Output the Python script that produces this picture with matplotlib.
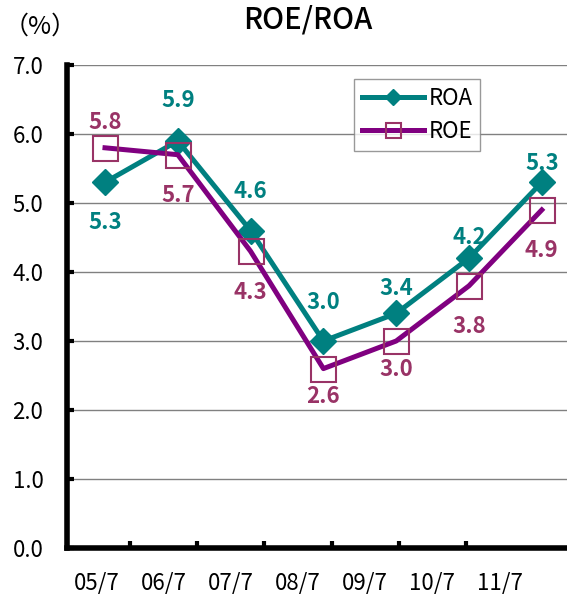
import matplotlib
matplotlib.use("Agg")
import matplotlib.pyplot as plt
import numpy as np

plt.rcParams['font.family'] = ['Noto Sans CJK JP', 'DejaVu Sans']

categories = ["05/7", "06/7", "07/7", "08/7", "09/7", "10/7", "11/7"]
roa = [5.3, 5.9, 4.6, 3.0, 3.4, 4.2, 5.3]
roe = [5.8, 5.7, 4.3, 2.6, 3.0, 3.8, 4.9]
yticks = [0.0, 1.0, 2.0, 3.0, 4.0, 5.0, 6.0, 7.0]

# label offsets in pixels (positive = above)
roa_label_off = [-40, 40, 39, 39, 25, 21, 19]
roe_label_off = [25, -41, -41, -28, -29, -41, -41]

ROA_C = "#008080"
ROE_LINE = "#800080"
ROE_MARK = "#993366"

W, H = 567, 594
fig = plt.figure(figsize=(W / 100, H / 100), dpi=100)
left, right, bottom, top = 67, 567, 548, 65
ax = fig.add_axes([left / W, 1 - bottom / H, (right - left) / W, (bottom - top) / H])

x = np.arange(len(categories))
ax.set_ylim(0, 7)
ax.set_xlim((left - 96.4) / 67.2, (right - 96.4) / 67.2)
ax.set_yticks(yticks)
ax.set_yticklabels([f"{v:.1f}" for v in yticks])
ax.set_xticks(x)
ax.set_xticklabels(categories)
ax.set_xticks(x[:-1] + 0.5, minor=True)
ax.tick_params(axis="x", which="major", length=0, pad=17, labelsize=16)
ax.tick_params(axis="x", which="minor", direction="in", length=5, width=3)
ax.tick_params(axis="y", direction="in", length=5, width=3, pad=17, labelsize=16)
ax.yaxis.grid(True, color="#808080", linewidth=1)
ax.set_axisbelow(True)
for s in ["top", "right"]:
    ax.spines[s].set_visible(False)
for s in ["left", "bottom"]:
    ax.spines[s].set_linewidth(4)
    ax.spines[s].set_color("black")

ax2 = ax.twiny()
ax2.set_xlim((left - 105) / 72.8, (right - 105) / 72.8)
ax2.set_ylim(0, 7)
ax2.set_xticks([])
for s in ax2.spines.values():
    s.set_visible(False)

ax2.plot(x, roa, color=ROA_C, linewidth=3.6, marker="D", markersize=13,
         markerfacecolor=ROA_C, markeredgecolor=ROA_C, label="ROA", zorder=3)
ax2.plot(x, roe, color=ROE_LINE, linewidth=3.6, marker="s", markersize=18,
         markerfacecolor="none", markeredgecolor=ROE_MARK, markeredgewidth=1.5,
         label="ROE", zorder=4)

for xi, v, off in zip(x, roa, roa_label_off):
    ax2.annotate(f"{v:.1f}", (xi, v), xytext=(0, off * 0.72), textcoords="offset points",
                 ha="center", va="center", color=ROA_C, fontsize=16, fontweight="bold")
for xi, v, off in zip(x, roe, roe_label_off):
    ax2.annotate(f"{v:.1f}", (xi, v), xytext=(0, off * 0.72), textcoords="offset points",
                 ha="center", va="center", color=ROE_MARK, fontsize=16, fontweight="bold")

leg = ax2.legend(loc="upper left", bbox_to_anchor=((354 - left) / (right - left), (bottom - 79) / (bottom - top)),
                 fontsize=16, frameon=True, fancybox=False, edgecolor="#808080",
                 handlelength=2.8, borderpad=0.35, labelspacing=0.45, handletextpad=0.2,
                 borderaxespad=0, markerscale=0.6)
leg.get_frame().set_linewidth(1)
leg.set_zorder(10)

fig.text(308 / W, 1 - 20 / H, "ROE/ROA", ha="center", va="center", fontsize=21, fontweight="medium")
fig.text(40 / W, 1 - 27 / H, "（%）", ha="center", va="center", fontsize=18)

fig.savefig("out.png", dpi=100)
